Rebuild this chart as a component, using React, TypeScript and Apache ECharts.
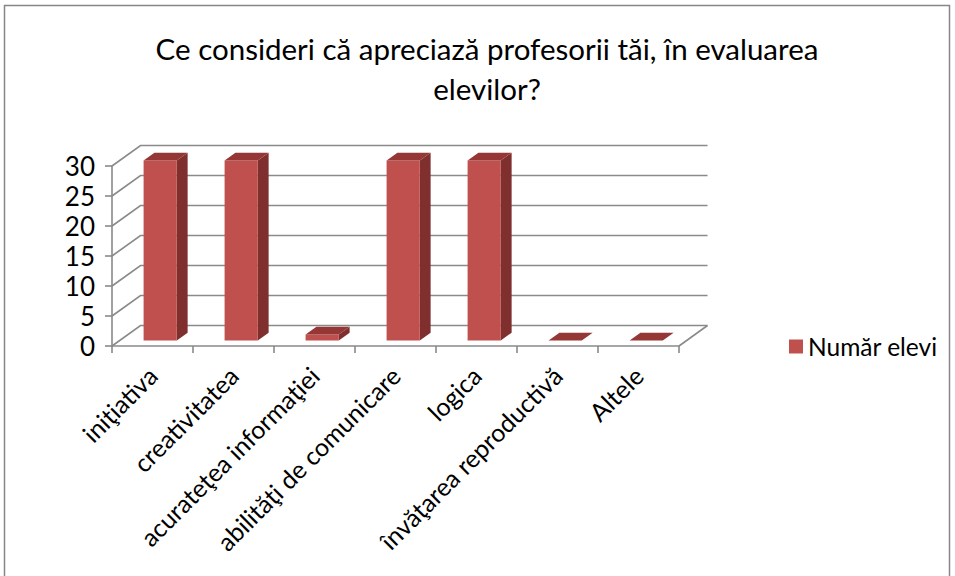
import React, { useEffect, useRef } from "react";
import * as echarts from "echarts";

const categories = [
  "iniţiativa",
  "creativitatea",
  "acurateţea informaţiei",
  "abilităţi de comunicare",
  "logica",
  "învăţarea reproductivă",
  "Altele",
];
const values = [30, 30, 1, 30, 30, 0, 0];
const yTicks = [0, 5, 10, 15, 20, 25, 30];
const seriesName = "Număr elevi";
const titleText = "Ce consideri că apreciază profesorii tăi, în evaluarea\nelevilor?";

const FONT = "Lato";
const DX = 28.5;
const DY = -20.5;
const F1 = 0.27;
const F2 = 0.65;
const GRID_COLOR = "#8a8a8a";

export default function App() {
  const ref = useRef<HTMLDivElement>(null);
  useEffect(() => {
    if (!ref.current) return;
    const chart = echarts.init(ref.current, undefined, { renderer: "svg" });

    const wallItem = (params: any, api: any) => {
      const cs = params.coordSys;
      const v = api.value(0);
      const y = api.coord([0, v])[1];
      const left = cs.x;
      const right = cs.x + cs.width;
      const children: any[] = [
        {
          type: "polyline",
          shape: {
            points: [
              [left, y],
              [left + DX, y + DY],
              [right + DX, y + DY],
            ],
          },
          style: { stroke: GRID_COLOR, lineWidth: 1.6, fill: "none" },
        },
      ];
      if (v === 0) {
        children.push({
          type: "line",
          shape: { x1: right, y1: y, x2: right + DX, y2: y + DY },
          style: { stroke: GRID_COLOR, lineWidth: 1.6 },
        });
      }
      return { type: "group", children };
    };

    const barItem = (params: any, api: any) => {
      const idx = api.value(0);
      const val = api.value(1);
      const base = api.coord([idx, 0]);
      const top = api.coord([idx, val]);
      const band = api.size([1, 0])[0];
      const w = band * 0.41;
      const x0 = base[0] - w / 2 + F1 * DX;
      const x1 = x0 + w;
      const yb = base[1] + F1 * DY;
      const yt = top[1] + F1 * DY;
      const bdx = (F2 - F1) * DX;
      const bdy = (F2 - F1) * DY;
      const children: any[] = [];
      if (yb - yt > 0.1) {
        children.push({
          type: "polygon",
          shape: {
            points: [
              [x1, yt],
              [x1 + bdx, yt + bdy],
              [x1 + bdx, yb + bdy],
              [x1, yb],
            ],
          },
          style: { fill: "#7f2f2d" },
        });
        children.push({
          type: "rect",
          shape: { x: x0, y: yt, width: w, height: yb - yt },
          style: { fill: "#c0504d" },
        });
      }
      children.push({
        type: "polygon",
        shape: {
          points: [
            [x0, yt],
            [x1, yt],
            [x1 + bdx, yt + bdy],
            [x0 + bdx, yt + bdy],
          ],
        },
        style: { fill: "#943735" },
      });
      return { type: "group", children };
    };

    chart.setOption({
      animation: false,
      backgroundColor: "#ffffff",
      textStyle: { fontFamily: FONT },
      title: {
        text: titleText,
        left: 487,
        top: 28,
        padding: 0,
        textAlign: "center",
        textStyle: {
          fontFamily: FONT,
          fontSize: 29.5,
          fontWeight: "normal",
          color: "#000",
          lineHeight: 40,
        },
      },
      legend: {
        data: [seriesName],
        left: 789,
        top: 334,
        padding: 0,
        icon: "rect",
        itemWidth: 14,
        itemHeight: 14,
        itemGap: 8,
        textStyle: { fontFamily: FONT, fontSize: 24.5, color: "#000" },
      },
      grid: { left: 112, top: 166, width: 567, height: 180 },
      xAxis: {
        type: "category",
        data: categories,
        axisLine: { show: true, lineStyle: { color: GRID_COLOR, width: 1.6 } },
        axisTick: { show: true, length: 7, lineStyle: { color: GRID_COLOR, width: 1.6 } },
        axisLabel: {
          rotate: 45,
          interval: 0,
          margin: 25,
          fontFamily: FONT,
          fontSize: 25,
          color: "#000",
        },
        splitLine: { show: false },
      },
      yAxis: {
        type: "value",
        min: 0,
        max: 30,
        interval: 5,
        axisLine: { show: true, lineStyle: { color: GRID_COLOR, width: 1.6 } },
        axisTick: { show: true, length: 7, lineStyle: { color: GRID_COLOR, width: 1.6 } },
        axisLabel: { margin: 17, fontFamily: FONT, fontSize: 26, color: "#000" },
        splitLine: { show: false },
      },
      graphic: [
        {
          type: "rect",
          shape: { x: 4.5, y: 5.5, width: 945, height: 620 },
          style: { fill: "none", stroke: "#868686", lineWidth: 1.5 },
          silent: true,
        },
      ],
      series: [
        {
          type: "custom",
          name: "walls",
          renderItem: wallItem,
          data: yTicks.map((t) => [t]),
          encode: { y: 0 },
          silent: true,
          z: 1,
        },
        {
          type: "custom",
          name: seriesName,
          renderItem: barItem,
          itemStyle: { color: "#c0504d" },
          data: values.map((v, i) => [i, v]),
          encode: { x: 0, y: 1 },
          z: 2,
        },
      ],
    });
    return () => chart.dispose();
  }, []);
  return (
    <div
      ref={ref}
      style={{ position: "fixed", left: 0, top: 0, width: 955, height: 576 }}
    />
  );
}
